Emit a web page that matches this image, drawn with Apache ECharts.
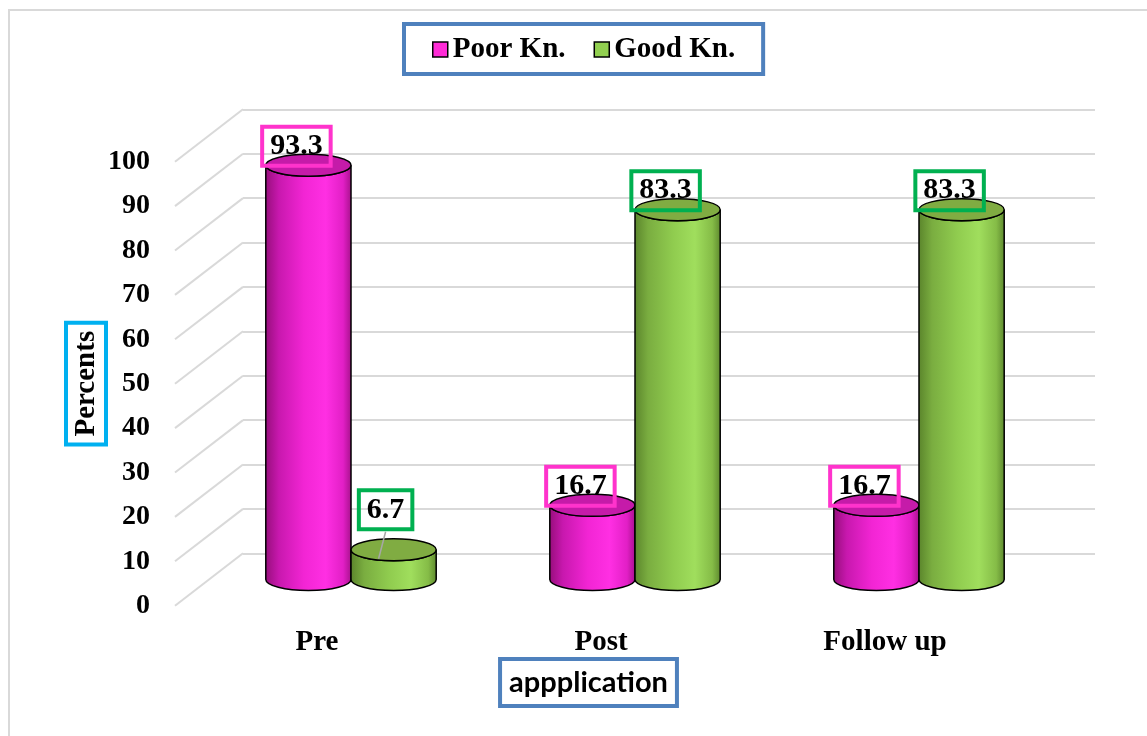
<!DOCTYPE html>
<html>
<head>
<meta charset="utf-8">
<script src="https://cdn.jsdelivr.net/npm/echarts@6/dist/echarts.min.js"></script>
<style>
  html, body { margin: 0; padding: 0; background: #fff; }
  #chart { width: 1147px; height: 736px; }
</style>
</head>
<body>
<div id="chart"></div>
<script>
// Knowledge level by application stage (percent of participants)
const categories = ['Pre', 'Post', 'Follow up'];
const poorKn = [93.3, 16.7, 16.7];
const goodKn = [6.7, 83.3, 83.3];
const yTicks = [0, 10, 20, 30, 40, 50, 60, 70, 80, 90, 100];

// 3-D box: the back wall, and the depth vector pointing toward the viewer
const BACK = { left: 243, top: 109.3, width: 852, height: 444 };
const DEPTH = { dx: -68, dy: 52.4 };
function plane(f) {
  return { left: BACK.left + DEPTH.dx * f, top: BACK.top + DEPTH.dy * f,
           width: BACK.width, height: BACK.height };
}

const SERIF = '"Liberation Serif", "Times New Roman", serif';
const GRID_GRAY = '#d9d9d9';

const STYLES = {
  poor: {
    legend: '#FF2BD6', cap: '#C51BA9', labelBorder: '#FF33CC',
    stops: ['#950E7A', '#C818AE', '#F225D4', '#FF2FE3', '#E21FC6', '#A5118A']
  },
  good: {
    legend: '#92D050', cap: '#80AC42', labelBorder: '#00B050',
    stops: ['#5A842B', '#7AAD40', '#90CC4F', '#A0DE5D', '#85BC47', '#5C872D']
  }
};
const STOP_POS = [0, 0.16, 0.45, 0.7, 0.9, 1];

function cylinderSeries(name, values, side, st) {
  return {
    type: 'custom',
    name: name,
    xAxisIndex: 2,
    yAxisIndex: 2,
    data: values.map((v, i) => [i, v]),
    encode: { x: 0, y: 1 },
    itemStyle: { color: st.legend },
    renderItem: function (params, api) {
      const i = api.value(0);
      const v = api.value(1);
      const band = api.size([1, 0])[0];
      const w = band * 0.3;
      const rx = w / 2;
      const ry = 11;
      const base = api.coord([i, 0]);
      const top = api.coord([i, v]);
      const cx = base[0] + side * rx;
      const xl = cx - rx, xr = cx + rx, yb = base[1], yt = top[1];

      const body = 'M' + xl + ',' + yt + ' L' + xl + ',' + yb +
        ' A' + rx + ',' + ry + ' 0 0 0 ' + xr + ',' + yb +
        ' L' + xr + ',' + yt +
        ' A' + rx + ',' + ry + ' 0 0 1 ' + xl + ',' + yt + ' Z';
      const cap = 'M' + xl + ',' + yt +
        ' A' + rx + ',' + ry + ' 0 0 1 ' + xr + ',' + yt +
        ' A' + rx + ',' + ry + ' 0 0 1 ' + xl + ',' + yt + ' Z';

      const grad = {
        type: 'linear', x: 0, y: 0, x2: 1, y2: 0,
        colorStops: st.stops.map((c, k) => ({ offset: STOP_POS[k], color: c }))
      };

      // small values get their label lifted with a leader line
      const lifted = v < 10;
      const lx = cx - (lifted ? 8 : 12);
      const ly = yt - (lifted ? 40 : 19);

      const children = [
        { type: 'path', shape: { pathData: body },
          style: { fill: grad, stroke: '#000', lineWidth: 1.5 } },
        { type: 'path', shape: { pathData: cap },
          style: { fill: st.cap, stroke: '#000', lineWidth: 1.5 } }
      ];
      if (lifted) {
        children.push({ type: 'line',
          shape: { x1: lx, y1: ly + 22, x2: cx - 15, y2: yt + 9 },
          style: { stroke: '#a6a6a6', lineWidth: 1.5 } });
      }
      children.push({
        type: 'text', x: lx, y: ly, z2: 10,
        style: {
          text: v.toFixed(1),
          fontFamily: SERIF, fontWeight: 'bold', fontSize: 30, lineHeight: 31,
          fill: '#000', align: 'center', verticalAlign: 'middle',
          borderColor: st.labelBorder, borderWidth: 4,
          padding: [5, 8, 3, 8]
        }
      });
      return { type: 'group', children: children };
    }
  };
}

const chart = echarts.init(document.getElementById('chart'), null, { renderer: 'canvas' });

const hiddenCat = { type: 'category', data: categories, show: false };
const hiddenVal = { type: 'value', min: 0, max: 100, interval: 10, show: false };

chart.setOption({
  animation: false,
  backgroundColor: '#fff',
  graphic: [
    { type: 'rect', silent: true, z: -10,
      shape: { x: 9, y: 10, width: 1200, height: 800 },
      style: { fill: null, stroke: GRID_GRAY, lineWidth: 2 } },
    { type: 'text', x: 588.5, y: 682.5, silent: true,
      style: {
        text: 'appplication', fontFamily: 'Lato, "Open Sans", sans-serif',
        fontWeight: 'bold', fontSize: 29, lineHeight: 31, fill: '#000',
        align: 'center', verticalAlign: 'middle',
        borderColor: '#4F81BD', borderWidth: 4, padding: [8, 9, 8, 9]
      } }
  ],
  legend: {
    left: 404, top: 24,
    padding: [11, 28, 10, 28],
    itemGap: 28, itemWidth: 15, itemHeight: 15,
    borderColor: '#4F81BD', borderWidth: 4,
    textStyle: { fontFamily: SERIF, fontWeight: 'bold', fontSize: 29, color: '#000' },
    data: [
      { name: 'Poor Kn.', icon: 'rect',
        itemStyle: { color: STYLES.poor.legend, borderColor: '#000', borderWidth: 1.5 } },
      { name: 'Good Kn.', icon: 'rect',
        itemStyle: { color: STYLES.good.legend, borderColor: '#000', borderWidth: 1.5 } }
    ]
  },
  grid: [plane(1), plane(0), plane(0.5)],
  xAxis: [
    { type: 'category', data: categories, gridIndex: 0,
      axisLine: { show: false }, axisTick: { show: false },
      axisLabel: { fontFamily: SERIF, fontWeight: 'bold', fontSize: 29, color: '#000', margin: 22 } },
    Object.assign({ gridIndex: 1 }, hiddenCat),
    Object.assign({ gridIndex: 2 }, hiddenCat)
  ],
  yAxis: [
    { type: 'value', gridIndex: 0, min: 0, max: 100, interval: 10,
      axisLine: { show: false }, axisTick: { show: false }, splitLine: { show: false },
      axisLabel: { fontFamily: SERIF, fontWeight: 'bold', fontSize: 28, color: '#000', margin: 25 },
      name: 'Percents', nameLocation: 'middle', nameRotate: 90, nameGap: 69,
      nameMoveOverlap: false,
      nameTextStyle: { fontFamily: SERIF, fontWeight: 'bold', fontSize: 29, lineHeight: 31, color: '#000',
        borderColor: '#00B0F0', borderWidth: 4, padding: [5, 8, 4, 8] } },
    { type: 'value', gridIndex: 1, min: 0, max: 100, interval: 10,
      axisLine: { show: false }, axisTick: { show: false }, axisLabel: { show: false },
      splitLine: { show: true, lineStyle: { color: GRID_GRAY, width: 2 } } },
    Object.assign({ gridIndex: 2 }, hiddenVal)
  ],
  series: [
    {
      // receding floor/side-wall lines joining the front ticks to the back wall
      type: 'custom', xAxisIndex: 1, yAxisIndex: 1, silent: true, z: 1,
      data: yTicks.map(v => [0, v]),
      encode: { x: 0, y: 1 },
      renderItem: function (params, api) {
        const y = api.coord([0, api.value(1)])[1];
        const x0 = params.coordSys.x;
        return { type: 'line',
          shape: { x1: x0, y1: y, x2: x0 + DEPTH.dx, y2: y + DEPTH.dy },
          style: { stroke: GRID_GRAY, lineWidth: 2 } };
      }
    },
    cylinderSeries('Poor Kn.', poorKn, -1, STYLES.poor),
    cylinderSeries('Good Kn.', goodKn, 1, STYLES.good)
  ]
});
</script>
</body>
</html>
